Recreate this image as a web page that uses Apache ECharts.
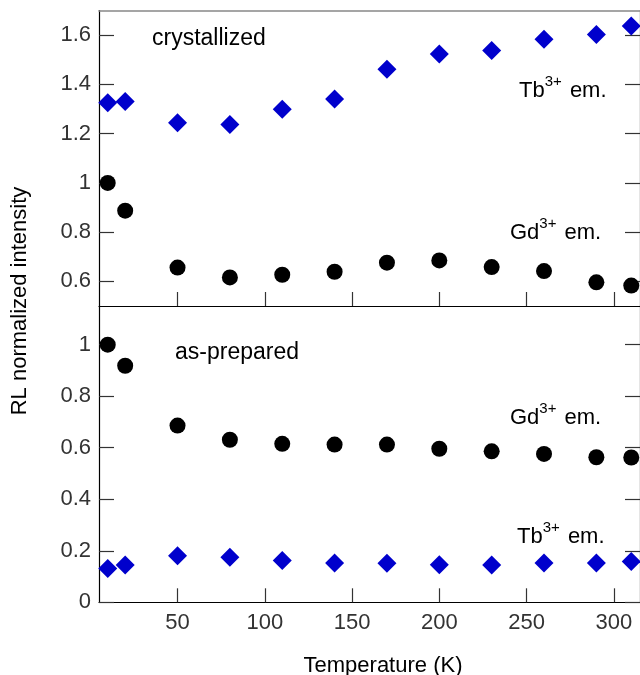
<!DOCTYPE html>
<html>
<head>
<meta charset="utf-8">
<script src="https://cdn.jsdelivr.net/npm/echarts@6/dist/echarts.min.js"></script>
<style>html,body{margin:0;padding:0;background:#fff;}#c{width:640px;height:675px;}</style>
</head>
<body>
<div id="c"></div>
<script>
const temperatures = [10, 20, 50, 80, 110, 140, 170, 200, 230, 260, 290, 310];
const crystTb = [1.325, 1.33, 1.244, 1.237, 1.299, 1.341, 1.461, 1.523, 1.538, 1.583, 1.603, 1.637];
const crystGd = [1.0, 0.887, 0.656, 0.616, 0.627, 0.639, 0.676, 0.685, 0.658, 0.642, 0.596, 0.583];
const prepGd = [1.0, 0.918, 0.686, 0.631, 0.615, 0.612, 0.612, 0.596, 0.586, 0.576, 0.563, 0.562];
const prepTb = [0.131, 0.145, 0.181, 0.175, 0.162, 0.153, 0.152, 0.146, 0.145, 0.153, 0.153, 0.158];
const xTicks = [50, 100, 150, 200, 250, 300];
const topYTicks = [0.6, 0.8, 1, 1.2, 1.4, 1.6];
const botYTicks = [0, 0.2, 0.4, 0.6, 0.8, 1];

const pairs = (ys) => temperatures.map((t, i) => [t, ys[i]]);
const FONT = 'Liberation Sans, Arial, sans-serif';
const blue = '#0000cc';

const chart = echarts.init(document.getElementById('c'), null, {renderer: 'canvas'});

function xAx(grid, opts) {
  return Object.assign({
    gridIndex: grid, type: 'value', min: 5, max: 315, position: 'bottom',
    axisLine: {show: true, onZero: false, lineStyle: {color: '#000', width: 1.2}},
    axisTick: {show: true, inside: true, length: 14, customValues: xTicks, lineStyle: {color: '#333', width: 1.2}},
    axisLabel: {show: false},
    splitLine: {show: false}
  }, opts);
}
function yAx(grid, min, max, ticks, pos, labels) {
  return {
    gridIndex: grid, type: 'value', min: min, max: max, position: pos,
    axisLine: {show: true, onZero: false, lineStyle: {color: '#000', width: 1.2}},
    axisTick: {show: true, inside: true, length: 15, customValues: ticks, lineStyle: {color: '#333', width: 1.2}},
    axisLabel: labels ? {show: true, customValues: ticks, margin: 8, fontSize: 22, fontFamily: FONT, color: '#333'} : {show: false},
    splitLine: {show: false}
  };
}

function label(x, y, main, sup, rest, size) {
  return {
    type: 'text', left: x, top: y,
    style: {
      text: '{a|' + main + '}{s|' + sup + '}{a|' + rest + '}',
      font: size + 'px ' + FONT,
      fill: '#000',
      rich: {
        a: {fontSize: size, fontFamily: FONT, fill: '#000', color: '#000', verticalAlign: 'bottom', lineHeight: size + 6},
        s: {fontSize: 15, fontFamily: FONT, fill: '#000', color: '#000', verticalAlign: 'top', lineHeight: size + 6, padding: [0, 2, 12, 0]}
      }
    }
  };
}

chart.setOption({
  animation: false,
  backgroundColor: '#fff',
  grid: [
    {left: 99, top: 10.5, width: 548, height: 295.5},
    {left: 99, top: 306, width: 548, height: 296.3}
  ],
  xAxis: [
    xAx(0, {}),
    xAx(0, {position: 'top', axisLine: {show: true, onZero: false, lineStyle: {color: '#888', width: 1.5}}, axisTick: {show: false}}),
    xAx(1, {axisLabel: {show: true, customValues: xTicks, margin: 10, fontSize: 22, fontFamily: FONT, color: '#333'}})
  ],
  yAxis: [
    yAx(0, 0.5, 1.7, topYTicks, 'left', true),
    yAx(0, 0.5, 1.7, topYTicks, 'right', false),
    yAx(1, 0, 1.15, botYTicks, 'left', true),
    yAx(1, 0, 1.15, botYTicks, 'right', false)
  ],
  series: [
    {type: 'scatter', xAxisIndex: 0, yAxisIndex: 0, data: pairs(crystTb), symbol: 'diamond', symbolSize: 19, itemStyle: {color: blue, opacity: 1}, clip: false},
    {type: 'scatter', xAxisIndex: 0, yAxisIndex: 0, data: pairs(crystGd), symbol: 'circle', symbolSize: 16, itemStyle: {color: '#000', opacity: 1}, clip: false},
    {type: 'scatter', xAxisIndex: 2, yAxisIndex: 2, data: pairs(prepGd), symbol: 'circle', symbolSize: 16, itemStyle: {color: '#000', opacity: 1}, clip: false},
    {type: 'scatter', xAxisIndex: 2, yAxisIndex: 2, data: pairs(prepTb), symbol: 'diamond', symbolSize: 19, itemStyle: {color: blue, opacity: 1}, clip: false}
  ],
  graphic: [
    {type: 'text', left: 152, top: 27, style: {text: 'crystallized', font: '23px ' + FONT, fill: '#000'}},
    {type: 'text', left: 175, top: 341.5, style: {text: 'as-prepared', font: '23px ' + FONT, fill: '#000'}},
    label(519, 74, 'Tb', '3+', ' em.', 22),
    label(510, 216, 'Gd', '3+', ' em.', 22),
    label(510, 401, 'Gd', '3+', ' em.', 22),
    label(517, 520, 'Tb', '3+', ' em.', 22),
    {type: 'text', x: 383, y: 666, style: {text: 'Temperature (K)', font: '22px ' + FONT, fill: '#000', align: 'center', verticalAlign: 'middle'}},
    {type: 'text', x: 20, y: 301, rotation: Math.PI / 2, style: {text: 'RL normalized intensity', font: '22px ' + FONT, fill: '#000', align: 'center', verticalAlign: 'middle'}}
  ]
});
</script>
</body>
</html>
